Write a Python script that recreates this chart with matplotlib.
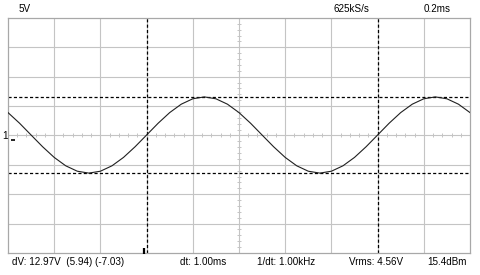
import matplotlib
matplotlib.use('Agg')
import matplotlib.pyplot as plt
import numpy as np

# scope settings
volts_per_div = 5.0
ms_per_div = 0.2
n_xdiv, n_ydiv = 10, 8
screen_center_v = -0.63   # voltage at the middle gridline

# trace samples, every 0.05 ms from 0 to 2.0 ms (V)
t_ms = [0.00, 0.05, 0.10, 0.15, 0.20, 0.25, 0.30, 0.35, 0.40, 0.45,
        0.50, 0.55, 0.60, 0.65, 0.70, 0.75, 0.80, 0.85, 0.90, 0.95,
        1.00, 1.05, 1.10, 1.15, 1.20, 1.25, 1.30, 1.35, 1.40, 1.45,
        1.50, 1.55, 1.60, 1.65, 1.70, 1.75, 1.80, 1.85, 1.90, 1.95, 2.00]
volts = [3.27, 1.46, -0.55, -2.55, -4.36, -5.79, -6.71, -7.03, -6.71, -5.79,
         -4.36, -2.55, -0.55, 1.46, 3.27, 4.70, 5.62, 5.94, 5.62, 4.70,
         3.27, 1.46, -0.55, -2.55, -4.36, -5.79, -6.71, -7.03, -6.71, -5.79,
         -4.36, -2.55, -0.55, 1.46, 3.27, 4.70, 5.62, 5.94, 5.62, 4.70, 3.27]

# cursors
t_cursors = [0.6, 1.6]
v_cursors = [5.94, -7.03]
trigger_t = 0.6

top_labels = ['5V', '625kS/s', '0.2ms']
bottom_labels = ['dV: 12.97V  (5.94) (-7.03)', 'dt: 1.00ms', '1/dt: 1.00kHz',
                 'Vrms: 4.56V', '15.4dBm']

W, H = 480, 275
fig = plt.figure(figsize=(W / 100, H / 100), dpi=100)
ax = fig.add_axes([8 / W, 1 - 253 / H, 462 / W, 235 / H])

x_max = n_xdiv * ms_per_div
y_lo = screen_center_v - n_ydiv / 2 * volts_per_div
y_hi = screen_center_v + n_ydiv / 2 * volts_per_div
ax.set_xlim(0, x_max)
ax.set_ylim(y_lo, y_hi)

grid_col = '#c4c4c4'
for i in range(1, n_xdiv):
    ax.axvline(i * ms_per_div, color=grid_col, lw=0.8, zorder=1)
for j in range(1, n_ydiv):
    ax.axhline(y_lo + j * volts_per_div, color=grid_col, lw=0.8, zorder=1)

# minor ticks on the centre lines
xt = np.arange(0, x_max + 1e-9, ms_per_div / 5)
ax.plot(xt, [screen_center_v] * len(xt), ls='none', marker='|', ms=3.5,
        mew=0.7, color=grid_col, zorder=1)
yt = np.arange(y_lo, y_hi + 1e-9, volts_per_div / 5)
ax.plot([x_max / 2] * len(yt), yt, ls='none', marker='_', ms=3.5,
        mew=0.7, color=grid_col, zorder=1)

for t in t_cursors:
    ax.axvline(t, color='black', lw=0.9, ls=(0, (2.5, 1.8)), zorder=2)
for v in v_cursors:
    ax.axhline(v, color='black', lw=0.9, ls=(0, (2.5, 1.8)), zorder=2)

ax.plot(t_ms, volts, color='#202020', lw=0.8, zorder=3)

# trigger marker at the bottom and channel markers
ax.plot([trigger_t - 0.011], [y_lo + 0.35], ls='none', marker='|', ms=4.5,
        mew=1.6, color='black', clip_on=False, zorder=4)
ax.plot([0.022], [screen_center_v - 0.85], ls='none', marker='_', ms=3,
        mew=1.2, color='black', zorder=4)
fig.text(2.5 / W, 1 - 136 / H, '1', fontsize=7.2, family='Liberation Sans',
         va='center', ha='left')

ax.set_xticks([])
ax.set_yticks([])
for s in ax.spines.values():
    s.set_color('#a8a8a8')
    s.set_linewidth(0.9)

fs = 7.1
for label, x in zip(top_labels, [19, 333, 424]):
    fig.text(x / W, 1 - 12.5 / H, label, fontsize=fs,
             family='Liberation Sans', va='baseline', ha='left')
for label, x in zip(bottom_labels, [12, 180, 257, 349, 427]):
    fig.text(x / W, 1 - 265 / H, label, fontsize=fs,
             family='Liberation Sans', va='baseline', ha='left')

fig.savefig('out.png', dpi=100)
